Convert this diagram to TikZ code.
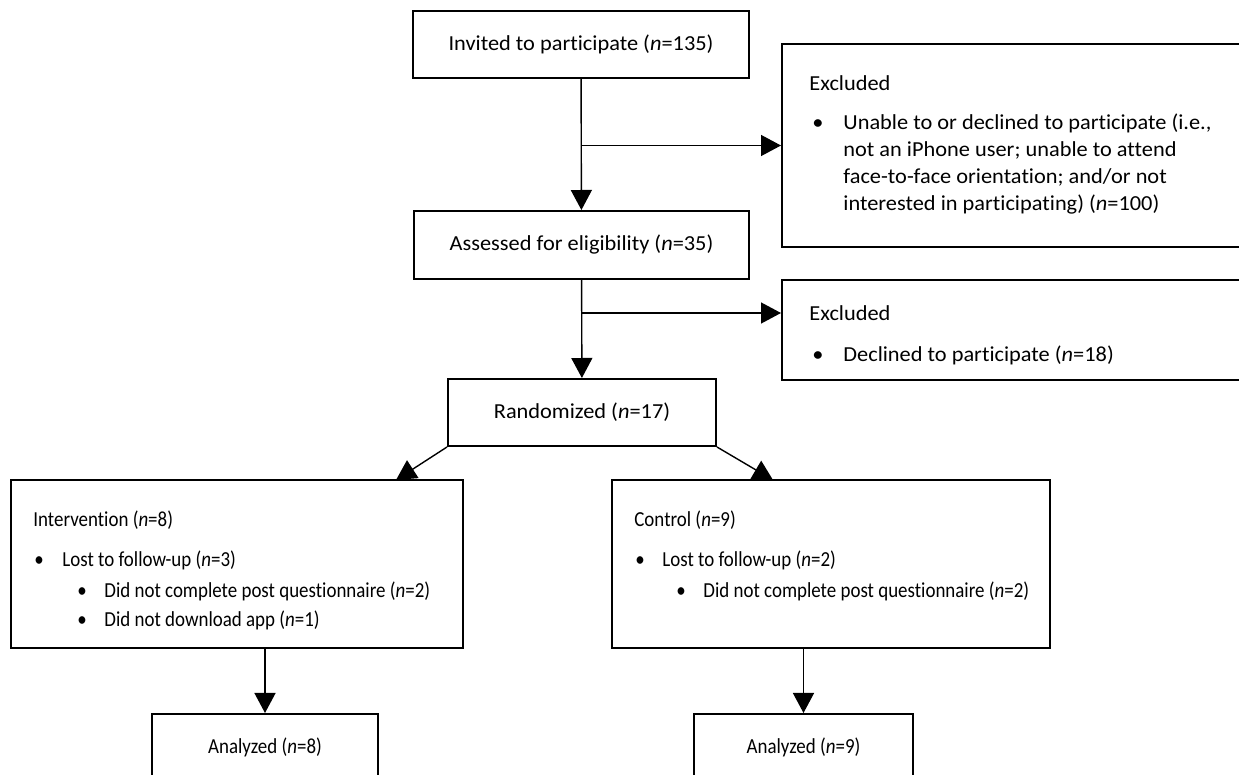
\documentclass[tikz,border=0pt]{standalone}
\usepackage{fontspec}
\setmainfont{Carlito}[Ligatures=NoCommon]
\newfontfamily\upperfont{Carlito}[Ligatures=NoCommon, FakeStretch=1.045]
\newfontfamily\lowerfont{Carlito}[Ligatures=NoCommon, FakeStretch=0.885]
\usetikzlibrary{arrows.meta, positioning}

\begin{document}
\begin{tikzpicture}[
        x=0.5pt, y=-0.5pt,
        upper/.style={font=\upperfont\fontsize{10.7pt}{13pt}\selectfont},
        lower/.style={font=\lowerfont\fontsize{10.7pt}{13pt}\selectfont},
        box/.style={rectangle, draw, line width=1pt, inner sep=0pt},
        txt/.style={anchor=base west, inner sep=0pt},
        flow/.style={line width=0.7pt, -{Triangle[width=10.5pt, length=10pt]}}
    ]
    \useasboundingbox (0,0) rectangle (1239,775);
    % Invited
    \node[box, upper, minimum width=168pt, minimum height=33.5pt] (invite) at (581,44.5) {Invited to participate (\textit{n}=135)};
    % Assessed
    \node[box, upper, minimum width=167.5pt, minimum height=34pt] (assess) at (581.5,245) {Assessed for eligibility (\textit{n}=35)};
    % Randomized
    \node[box, upper, minimum width=134pt, minimum height=33.5pt] (rand) at (582,412.5) {Randomized (\textit{n}=17)};
    % Excluded (first)
    \node[box, minimum width=240pt, minimum height=101.5pt] (excla) at (1022,145.5) {};
    \begin{scope}[upper]
    \node[txt] (exclahead) at (809,91) {Excluded};
    \node[txt] (exclabul) at (812,130) {\textbullet};
    \node[txt] (exclaone) at (843,130) {Unable to or declined to participate (i.e.,};
    \node[txt] (exclatwo) at (843,157) {not an iPhone user; unable to attend};
    \node[txt] (exclathree) at (843,184) {face-to-face orientation; and/or not};
    \node[txt] (exclafour) at (843,211) {interested in participating) (\textit{n}=100)};
    \end{scope}
    % Excluded (second)
    \node[box, minimum width=240pt, minimum height=50pt] (exclb) at (1022,330) {};
    \begin{scope}[upper]
    \node[txt] (exclbhead) at (809,321) {Excluded};
    \node[txt] (exclbbul) at (812,362) {\textbullet};
    \node[txt] (exclbone) at (843,362) {Declined to participate (\textit{n}=18)};
    \end{scope}
    % Intervention
    \node[box, minimum width=226pt, minimum height=84pt] (interv) at (237,564) {};
    \begin{scope}[lower]
    \node[txt] (intervhead) at (33,527) {Intervention (\textit{n}=8)};
    \node[txt] (intervbul) at (34,567) {\textbullet};
    \node[txt] (intervlost) at (62,567) {Lost to follow-up (\textit{n}=3)};
    \node[txt] (intervsubbula) at (77,598) {\textbullet};
    \node[txt] (intervpost) at (104,598) {Did not complete post questionnaire (\textit{n}=2)};
    \node[txt] (intervsubbulb) at (77,627) {\textbullet};
    \node[txt] (intervapp) at (104,627) {Did not download app (\textit{n}=1)};
    \end{scope}
    % Control
    \node[box, minimum width=219pt, minimum height=84pt] (control) at (831,564) {};
    \begin{scope}[lower]
    \node[txt] (controlhead) at (634,527) {Control (\textit{n}=9)};
    \node[txt] (controlbul) at (635,567) {\textbullet};
    \node[txt] (controllost) at (662,567) {Lost to follow-up (\textit{n}=2)};
    \node[txt] (controlsubbul) at (676,598) {\textbullet};
    \node[txt] (controlpost) at (703,598) {Did not complete post questionnaire (\textit{n}=2)};
    \end{scope}
    % Analyzed
    \node[box, lower, minimum width=113pt, minimum height=33.5pt] (analint) at (265,747.5) {Analyzed (\textit{n}=8)};
    \node[box, lower, minimum width=109.5pt, minimum height=33.5pt] (analcon) at (803.5,747.5) {Analyzed (\textit{n}=9)};
    % Connections
    \coordinate (brancha) at (invite.south |- excla.west);
    \coordinate (branchb) at (581.5,313);
    \coordinate (tipint) at (396,480);
    \coordinate (tipcon) at (773,480);
    \draw[flow] (invite) -- (assess);
    \draw[flow] (brancha) -- (excla.west);
    \draw[flow] (assess) -- (rand);
    \draw[flow] (branchb) -- (branchb -| exclb.west);
    \draw[flow] (rand.south west) -- (tipint);
    \draw[flow] (rand.south east) -- (tipcon);
    \draw[flow] (analint.north |- interv.south) -- (analint.north);
    \draw[flow] (analcon.north |- control.south) -- (analcon.north);
\end{tikzpicture}
\end{document}
